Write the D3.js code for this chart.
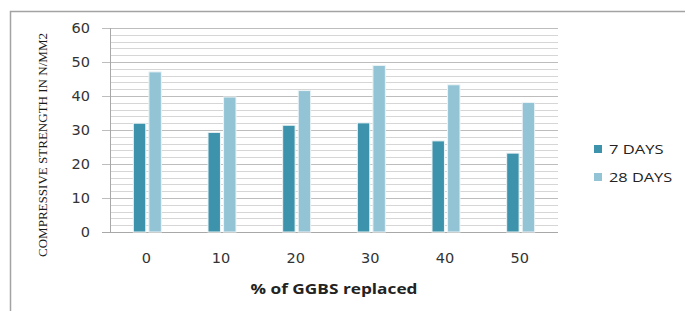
<!DOCTYPE html>
<html>
<head>
<meta charset="utf-8">
<script src="https://cdn.jsdelivr.net/npm/d3@7"></script>
<style>
  body { margin: 0; background: #fff; }
  svg { display: block; }
</style>
</head>
<body>
<div id="chart"></div>
<script>
const categories = ['0', '10', '20', '30', '40', '50']
const seriesNames = ['7 DAYS', '28 DAYS']
const days7 = [32.0, 29.3, 31.4, 32.1, 26.8, 23.2]
const days28 = [47.1, 39.7, 41.6, 49.0, 43.3, 38.1]
const yTicks = [0, 10, 20, 30, 40, 50, 60]
const colors = ['#3d93ab', '#93c4d6']

let width = 685
let height = 311
let plot = { left: 110, right: 558, top: 28, bottom: 232 }

let svg = d3.select('#chart').append('svg')
  .attr('width', width)
  .attr('height', height)

// outer frame (left + top only, like the cropped original)
svg.append('path')
  .attr('d', `M10.5,${height} L10.5,11.5 L${width},11.5`)
  .attr('fill', 'none')
  .attr('stroke', '#a3a3a3')
  .attr('stroke-width', 1.5)

let y = d3.scaleLinear()
  .domain([0, 60])
  .range([plot.bottom, plot.top])

let x = d3.scaleBand()
  .domain(categories)
  .range([plot.left, plot.right])
  .paddingInner(0.625)
  .paddingOuter(0.3125)

let xs = d3.scaleBand()
  .domain(seriesNames)
  .range([0, x.bandwidth()])
  .paddingInner(0.2)

// minor gridlines every 2
let grid = svg.append('g')
grid.selectAll('.minor')
  .data(d3.range(2, 60, 2).filter((d) => d % 10 !== 0))
  .enter().append('line')
  .attr('class', 'minor')
  .attr('x1', plot.left)
  .attr('x2', plot.right)
  .attr('y1', (d) => Math.round(y(d)) + 0.5)
  .attr('y2', (d) => Math.round(y(d)) + 0.5)
  .attr('stroke', '#d6d6d6')

// major gridlines + y ticks
let yAxis = d3.axisLeft(y)
  .tickValues(yTicks)
  .tickSize(plot.right - plot.left)

svg.append('g')
  .attr('transform', `translate(${plot.right},0)`)
  .call(yAxis)
  .call((g) => g.select('.domain').remove())
  .call((g) => g.selectAll('.tick line')
    .attr('stroke', '#bdbdbd')
    .attr('x1', 0)
    .attr('x2', -(plot.right - plot.left) - 8))
  .call((g) => g.selectAll('.tick text')
    .attr('x', -(plot.right - plot.left) - 20)
    .attr('fill', '#333')
    .style('font-family', 'DejaVu Sans, sans-serif')
    .style('font-size', '14.5px'))

// y axis line
svg.append('line')
  .attr('x1', plot.left + 0.5)
  .attr('x2', plot.left + 0.5)
  .attr('y1', plot.top)
  .attr('y2', plot.bottom)
  .attr('stroke', '#a8a8a8')

// x axis line
svg.append('line')
  .attr('x1', plot.left - 8)
  .attr('x2', plot.right)
  .attr('y1', Math.round(y(0)) + 0.5)
  .attr('y2', Math.round(y(0)) + 0.5)
  .attr('stroke', '#a8a8a8')

// bars
let rows = categories.map((c, i) => ({ cat: c, values: [days7[i], days28[i]] }))

let group = svg.append('g')
  .selectAll('.group')
  .data(rows)
  .enter().append('g')
  .attr('class', 'group')
  .attr('transform', (d) => `translate(${x(d.cat)},0)`)

group.selectAll('rect')
  .data((d) => d.values.map((v, j) => ({ name: seriesNames[j], value: v, j: j })))
  .enter().append('rect')
  .attr('x', (d) => xs(d.name))
  .attr('y', (d) => y(d.value))
  .attr('width', xs.bandwidth())
  .attr('height', (d) => y(0) - y(d.value))
  .attr('fill', (d) => colors[d.j])
  .attr('stroke', '#eef4f6')
  .attr('stroke-width', 1)

// x tick labels
svg.append('g')
  .selectAll('text')
  .data(categories)
  .enter().append('text')
  .attr('x', (d) => x(d) + x.bandwidth() / 2 - 1)
  .attr('y', 263)
  .attr('text-anchor', 'middle')
  .attr('fill', '#333')
  .style('font-family', 'DejaVu Sans, sans-serif')
  .style('font-size', '14.5px')
  .text((d) => d)

// x axis title
svg.append('text')
  .attr('x', (plot.left + plot.right) / 2)
  .attr('y', 294)
  .attr('text-anchor', 'middle')
  .attr('fill', '#222')
  .attr('textLength', 167)
  .attr('lengthAdjust', 'spacingAndGlyphs')
  .style('font-family', 'Open Sans, sans-serif')
  .style('font-weight', 'bold')
  .style('font-size', '14px')
  .text('% of GGBS replaced')

// y axis title
svg.append('text')
  .attr('transform', 'translate(47,145) rotate(-90)')
  .attr('text-anchor', 'middle')
  .attr('fill', '#1a1a1a')
  .attr('textLength', 224)
  .attr('lengthAdjust', 'spacingAndGlyphs')
  .style('font-family', 'Liberation Serif, serif')
  .style('font-size', '12.5px')
  .text('COMPRESSIVE STRENGTH IN N/MM2')

// legend
let legend = svg.append('g')
  .selectAll('.legend')
  .data(seriesNames)
  .enter().append('g')
  .attr('class', 'legend')
  .attr('transform', (d, i) => `translate(594,${149 + i * 28})`)

legend.append('rect')
  .attr('x', 0)
  .attr('y', -4)
  .attr('width', 8)
  .attr('height', 8)
  .attr('fill', (d, i) => colors[i])

legend.append('text')
  .attr('x', 15)
  .attr('y', 5)
  .attr('fill', '#222')
  .attr('textLength', (d) => d.length * 8.6 + 3)
  .attr('lengthAdjust', 'spacingAndGlyphs')
  .style('font-family', 'Open Sans, sans-serif')
  .style('font-size', '13.5px')
  .text((d) => d)
</script>
</body>
</html>
